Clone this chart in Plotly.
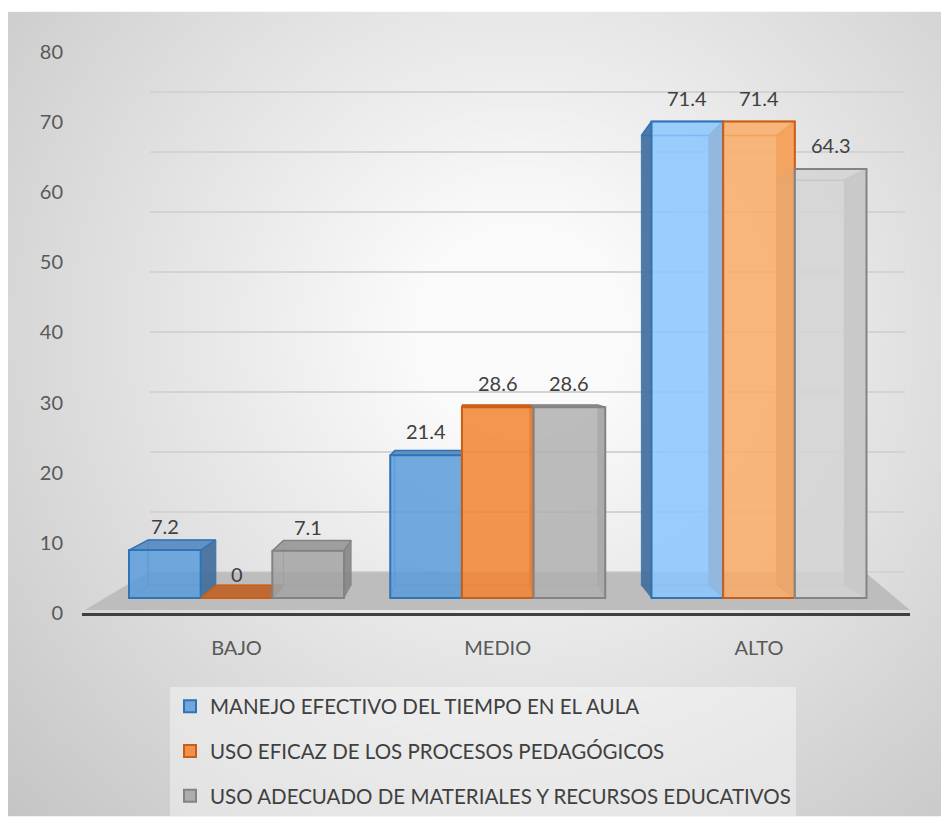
import base64
import struct
import zlib

import numpy as np
import plotly.graph_objects as go

# ---------------- data ----------------
categories = ["BAJO", "MEDIO", "ALTO"]
series_names = [
    "MANEJO EFECTIVO DEL TIEMPO EN EL AULA",
    "USO EFICAZ DE LOS PROCESOS PEDAGÓGICOS",
    "USO ADECUADO DE MATERIALES Y RECURSOS EDUCATIVOS",
]
manejo_tiempo = [7.2, 21.4, 71.4]
uso_procesos = [0, 28.6, 71.4]
uso_materiales = [7.1, 28.6, 64.3]
y_ticks = [0, 10, 20, 30, 40, 50, 60, 70, 80]

series_values = [manejo_tiempo, uso_procesos, uso_materiales]

# ---------------- styles ----------------
FONT = "Lato"
front_colors = [
    ["rgba(91,156,218,0.85)", "rgba(91,156,218,0.85)", "rgba(139,197,254,0.85)"],
    ["rgba(242,130,49,0.85)", "rgba(242,130,49,0.85)", "rgba(250,172,103,0.85)"],
    ["rgba(163,163,163,0.85)", "rgba(176,176,176,0.85)", "rgba(212,212,212,0.85)"],
]
outline_colors = ["#2F74B5", "#C95F17", "#838383"]
edge_colors = ["rgba(47,116,181,0.55)", "rgba(201,95,23,0.55)", "rgba(131,131,131,0.55)"]
side_colors = ["rgba(66,110,155,0.92)", "rgba(205,110,45,0.92)", "rgba(135,135,135,0.92)"]
top_colors = ["rgba(86,138,192,0.92)", "rgba(192,101,43,0.95)", "rgba(152,152,152,0.92)"]

BARGAP = 0.177
BW = (1 - BARGAP) / 3
# perspective (vanishing point in data units of the bar axes, depth scale)
VX, VY, S = 0.8976, 34.2, 0.944

X_RANGE = [-0.5914, 2.578]
BAR_Y_RANGE = [-2.232, 86.31]
GRID_Y_RANGE = [-6.777, 91.57]
LABEL_Y_RANGE = [0, 84.27]

W, H = 941, 827


def fy(t):
    """layout pixel for a desired on-screen vertical pixel"""
    return (t + 1.6) / 0.9929


ML, MR = 82, 31
MT = round(fy(20))
MB = H - round(fy(615))
PW, PH = W - ML - MR, H - MT - MB


# ---------------- background gradient image ----------------
def make_png(gray):
    h, w = gray.shape
    raw = b"".join(b"\x00" + gray[r].tobytes() for r in range(h))

    def chunk(tag, data):
        c = struct.pack(">I", len(data)) + tag + data
        return c + struct.pack(">I", zlib.crc32(tag + data) & 0xFFFFFFFF)

    return (b"\x89PNG\r\n\x1a\n"
            + chunk(b"IHDR", struct.pack(">IIBBBBB", w, h, 8, 0, 0, 0, 0))
            + chunk(b"IDAT", zlib.compress(raw, 9))
            + chunk(b"IEND", b""))


gw, gh = 233, 204
bx0, by0 = 8, fy(10)
bw_px, bh_px = W - bx0, H - by0
yy, xx = np.mgrid[0:gh, 0:gw]
px = (xx + 0.5) * bw_px / gw + bx0
py = (yy + 0.5) * bh_px / gh + by0
dist = np.hypot(px - 520, py - fy(330))
gray = np.clip(260 - 0.088 * dist, 190, 250).astype(np.uint8)
bg_uri = "data:image/png;base64," + base64.b64encode(make_png(gray)).decode()

fig = go.Figure()

# invisible helpers so all axes render
fig.add_trace(go.Scatter(x=[0.5], y=[0], mode="markers", marker=dict(opacity=0),
                         hoverinfo="skip", showlegend=False, xaxis="x", yaxis="y"))
fig.add_trace(go.Scatter(x=[0], y=[0], mode="markers", marker=dict(opacity=0),
                         hoverinfo="skip", showlegend=False, xaxis="x2", yaxis="y2"))


def persp(x, y):
    return VX + S * (x - VX), VY + S * (y - VY)


# 3D faces (drawn below the front faces)
for j, vals in enumerate(series_values):
    for i, v in enumerate(vals):
        x0 = i + (j - 1.5) * BW
        x1 = x0 + BW
        bx0_, by0_ = persp(x0, 0)
        bx1_, by1_ = persp(x1, v)
        # back face outline
        fig.add_trace(go.Scatter(
            x=[bx0_, bx1_, bx1_, bx0_, bx0_], y=[by0_, by0_, by1_, by1_, by0_],
            mode="lines", line=dict(color=edge_colors[j], width=1),
            hoverinfo="skip", showlegend=False, xaxis="x2", yaxis="y2"))
        # left side
        left_fill = side_colors[j] if (x0 + x1) / 2 > VX else "rgba(0,0,0,0)"
        fig.add_trace(go.Scatter(
            x=[x0, x0, bx0_, bx0_, x0], y=[0, v, by1_, by0_, 0],
            mode="lines", fill="toself", fillcolor=left_fill,
            line=dict(color=edge_colors[j], width=1),
            hoverinfo="skip", showlegend=False, xaxis="x2", yaxis="y2"))
        # right side
        fig.add_trace(go.Scatter(
            x=[x1, x1, bx1_, bx1_, x1], y=[0, v, by1_, by0_, 0],
            mode="lines", fill="toself", fillcolor=side_colors[j],
            line=dict(color=edge_colors[j], width=1),
            hoverinfo="skip", showlegend=False, xaxis="x2", yaxis="y2"))
        # top
        top_fill = top_colors[j] if by1_ > v else "rgba(0,0,0,0)"
        fig.add_trace(go.Scatter(
            x=[x0, x1, bx1_, bx0_, x0], y=[v, v, by1_, by1_, v],
            mode="lines", fill="toself", fillcolor=top_fill,
            line=dict(color=outline_colors[j], width=1.5),
            hoverinfo="skip", showlegend=False, xaxis="x2", yaxis="y2"))

# front faces: the bars
for j, (name, vals) in enumerate(zip(series_names, series_values)):
    fig.add_trace(go.Bar(
        x=categories, y=vals, name=name, legendgroup=name,
        marker=dict(color=front_colors[j], line=dict(color=outline_colors[j], width=2)),
        hoverinfo="skip", xaxis="x3", yaxis="y3"))

fig.add_trace(go.Scatter(x=[categories[0]], y=[0], mode="markers", marker=dict(opacity=0),
                         hoverinfo="skip", showlegend=False, xaxis="x3", yaxis="y4"))

# value labels
annotations = []
for j, vals in enumerate(series_values):
    for i, v in enumerate(vals):
        annotations.append(dict(
            x=i + (j - 1) * BW, y=v, xref="x3", yref="y3", text=f"{v:g}",
            showarrow=False, yanchor="middle", yshift=24,
            font=dict(family=FONT, size=20, color="#404040")))

# floor
floor_front, floor_back = -1.79, 3.87
shapes = [dict(
    type="path", xref="x2", yref="y2", layer="below",
    path=(f"M {-0.58} {floor_front} L {2.578} {floor_front} "
          f"L {2.406} {floor_back} L {-0.339} {floor_back} Z"),
    fillcolor="#bdbdbd", line=dict(width=0))]

fig.update_layout(
    width=W, height=H,
    margin=dict(l=ML, r=MR, t=MT, b=MB),
    paper_bgcolor="white", plot_bgcolor="rgba(0,0,0,0)",
    font=dict(family=FONT, size=20, color="#595959"),
    barmode="group", bargap=BARGAP, bargroupgap=0,
    images=[dict(source=bg_uri, xref="paper", yref="paper",
                 x=(bx0 - ML) / PW, y=1 + (MT - by0) / PH,
                 sizex=bw_px / PW, sizey=bh_px / PH,
                 xanchor="left", yanchor="top", sizing="stretch", layer="below")],
    shapes=shapes,
    annotations=annotations,
    xaxis=dict(domain=[(150 - ML) / PW, (905 - ML) / PW], range=[0, 1], visible=False,
               anchor="y", fixedrange=True),
    yaxis=dict(range=GRID_Y_RANGE, tickvals=y_ticks, showgrid=True, gridcolor="#d3d3d3",
               gridwidth=1.5, showticklabels=False, zeroline=False, showline=False,
               ticks="", anchor="x"),
    xaxis2=dict(domain=[0, 1], range=X_RANGE, visible=False, anchor="y2"),
    yaxis2=dict(range=BAR_Y_RANGE, visible=False, anchor="x2"),
    xaxis3=dict(domain=[0, 1], type="category", range=X_RANGE, anchor="y3",
                showline=True, linecolor="#3f3f3f", linewidth=3, ticks="outside",
                ticklen=15, tickcolor="rgba(0,0,0,0)", showgrid=False,
                tickfont=dict(family=FONT, size=20, color="#595959")),
    yaxis3=dict(range=BAR_Y_RANGE, visible=False, anchor="x3"),
    yaxis4=dict(range=LABEL_Y_RANGE, overlaying="y3", anchor="x3", side="left",
                tickvals=y_ticks, ticks="outside", ticklen=14, tickcolor="rgba(0,0,0,0)",
                showgrid=False, zeroline=False, showline=False,
                tickfont=dict(family=FONT, size=20, color="#595959")),
    legend=dict(x=(170 - ML) / PW, y=(MT + PH - fy(689)) / PH, xanchor="left", yanchor="top",
                orientation="v", bgcolor="rgba(255,255,255,0.4)", tracegroupgap=15,
                font=dict(family=FONT, size=20.5, color="#404040")),
    showlegend=True,
)

fig.write_html("out.html", config={"displayModeBar": False},
               post_script="document.body.style.margin='0';")
